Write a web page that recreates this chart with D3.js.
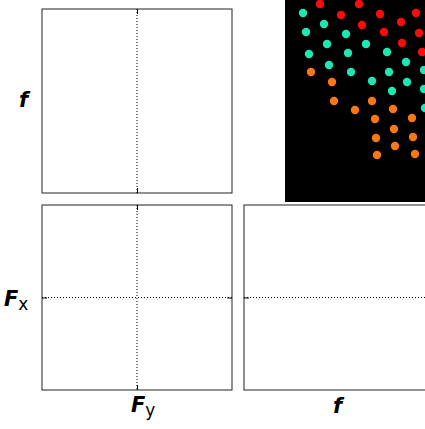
<!DOCTYPE html>
<html>
<head>
<meta charset="utf-8">
<script src="https://cdn.jsdelivr.net/npm/d3@7"></script>
<style>
  html, body { margin: 0; padding: 0; background: #fff; }
  svg { display: block; }
</style>
</head>
<body>
<script>
// Particle positions (panel units) for the three species shown in the image panel
const redX    = [35, 74, 56, 95, 131, 77, 116, 99, 134, 117, 137];
const redY    = [4, 4, 15, 14, 13, 25, 22, 32, 33, 43, 52];
const cyanX   = [18, 39, 21, 61, 42, 81, 24, 63, 102, 121, 139, 44, 66, 104, 87, 122, 107, 139, 140];
const cyanY   = [13, 24, 32, 34, 44, 44, 54, 53, 52, 62, 70, 65, 72, 72, 81, 82, 91, 89, 108];
const orangeX = [26, 47, 49, 70, 87, 108, 90, 127, 109, 91, 128, 110, 92, 130];
const orangeY = [72, 82, 101, 110, 101, 109, 119, 118, 129, 138, 137, 146, 155, 154];

// Axis labels
const rowLabels = ["f", "F"];
const colLabels = ["F", "f"];

const W = 425, H = 429;
const svg = d3.select("body").append("svg").attr("width", W).attr("height", H);

// Frame panels: [left, top, right, bottom] plus which zero-lines they show
const panels = [
  { x0: 42,  y0: 9,   x1: 232, y1: 193, vline: true,  hline: false },
  { x0: 42,  y0: 205, x1: 232, y1: 390, vline: true,  hline: true  },
  { x0: 244, y0: 205, x1: 520, y1: 390, vline: false, hline: true, xd: [-1, 1.9] }
];

panels.forEach(p => {
  const x = d3.scaleLinear().domain(p.xd || [-1, 1]).range([p.x0, p.x1]);
  const y = d3.scaleLinear().domain([-1, 1]).range([p.y1, p.y0]);
  const g = svg.append("g");

  g.append("rect")
    .attr("x", p.x0).attr("y", p.y0)
    .attr("width", p.x1 - p.x0).attr("height", p.y1 - p.y0)
    .attr("fill", "none").attr("stroke", "#222").attr("stroke-width", 1);

  const inward = a => a.tickValues([0]).tickSize(-5).tickSizeOuter(0).tickFormat("");
  const addAxis = (axis, tx, ty) => {
    const ag = g.append("g").attr("transform", `translate(${tx},${ty})`).call(inward(axis));
    ag.select(".domain").remove();
    ag.selectAll("line").attr("stroke", "#000").attr("stroke-width", 1);
  };

  if (p.vline) {
    g.append("line")
      .attr("x1", x(0)).attr("x2", x(0))
      .attr("y1", p.y0).attr("y2", p.y1)
      .attr("stroke", "#000").attr("stroke-width", 1)
      .attr("stroke-dasharray", "1,2");
    addAxis(d3.axisTop(x), 0, p.y0);
    addAxis(d3.axisBottom(x), 0, p.y1);
  }
  if (p.hline) {
    g.append("line")
      .attr("x1", p.x0).attr("x2", p.x1)
      .attr("y1", y(0)).attr("y2", y(0))
      .attr("stroke", "#000").attr("stroke-width", 1)
      .attr("stroke-dasharray", "1,2");
    addAxis(d3.axisLeft(y), p.x0, 0);
    addAxis(d3.axisRight(y), p.x1, 0);
  }
});

// Image panel with particles on a black background
const img = { x0: 285, y0: 0, x1: 475, y1: 202 };
const sx = d3.scaleLinear().domain([0, 190]).range([img.x0, img.x1]);
const sy = d3.scaleLinear().domain([0, 202]).range([img.y0, img.y1]);

svg.append("rect")
  .attr("x", sx(0)).attr("y", sy(0))
  .attr("width", sx(190) - sx(0)).attr("height", sy(202) - sy(0))
  .attr("fill", "#000");

const species = [
  { xs: redX,    ys: redY,    color: "#ff0a0a" },
  { xs: cyanX,   ys: cyanY,   color: "#1de8b4" },
  { xs: orangeX, ys: orangeY, color: "#fa7712" }
];
species.forEach(s => {
  svg.append("g").selectAll("circle")
    .data(d3.zip(s.xs, s.ys))
    .join("circle")
    .attr("cx", d => sx(d[0]))
    .attr("cy", d => sy(d[1]))
    .attr("r", 4.2)
    .attr("fill", s.color);
});

// Labels
const font = "DejaVu Sans, Liberation Sans, sans-serif";
const label = (tx, ty, main, sub) => {
  const t = svg.append("text")
    .attr("x", tx).attr("y", ty)
    .attr("font-family", font)
    .attr("fill", "#000");
  t.append("tspan")
    .attr("font-size", 21).attr("font-weight", "bold").attr("font-style", "italic")
    .text(main);
  if (sub) {
    t.append("tspan")
      .attr("font-size", 17).attr("dy", 4)
      .text(sub);
  }
  return t;
};
label(19, 107, rowLabels[0]);
label(4, 306, rowLabels[1], "x");
label(131, 421 - 9, colLabels[0], "y");
label(333, 420 - 7, colLabels[1]);
</script>
</body>
</html>
